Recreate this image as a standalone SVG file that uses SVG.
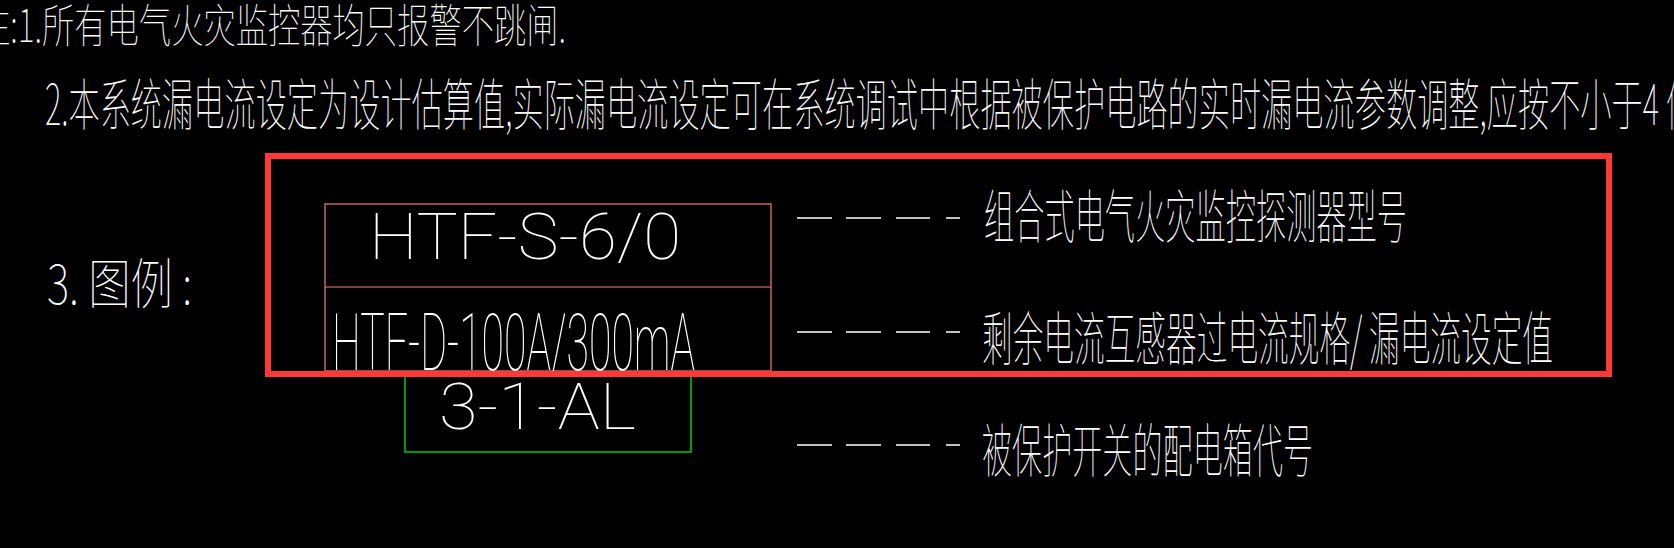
<svg xmlns="http://www.w3.org/2000/svg" width="1674" height="548" viewBox="0 0 1674 548">
<style>
.t{fill:#fff;font-family:Roboto,"Liberation Sans",sans-serif;font-weight:100}
.c{fill:#fff;font-family:"Noto Sans CJK SC",sans-serif;font-weight:100}
.d{stroke:#fff;stroke-width:1.5;fill:none}
</style>
<rect width="1674" height="548" fill="#000"/>
<g id="notes">
<text class="c" x="-22" y="42" font-size="46" textLength="588" lengthAdjust="spacingAndGlyphs">注:1.所有电气火灾监控器均只报警不跳闸.</text>
<text class="c" x="45" y="125" font-size="56" textLength="1614" lengthAdjust="spacingAndGlyphs">2.本系统漏电流设定为设计估算值,实际漏电流设定可在系统调试中根据被保护电路的实时漏电流参数调整,应按不小于4</text>
<text class="c" x="1666" y="125" font-size="56" textLength="30" lengthAdjust="spacingAndGlyphs">倍</text>
<text class="c" x="47" y="304" font-size="54" textLength="145" lengthAdjust="spacingAndGlyphs">3. 图例 :</text>
</g>
<g id="legend-box">
<rect x="325" y="204" width="446" height="167" fill="none" stroke="#f08080" stroke-width="1.2"/>
<line x1="325" y1="287" x2="771" y2="287" stroke="#f08080" stroke-width="1.2"/>
<text class="t" x="369" y="259" font-size="64" textLength="312" lengthAdjust="spacingAndGlyphs">HTF-S-6/0</text>
<text class="t" x="332" y="370" font-size="80" textLength="363" lengthAdjust="spacingAndGlyphs">HTF-D-100A/300mA</text>
</g>
<g id="panel-box">
<rect x="405" y="372" width="286" height="80" fill="none" stroke="#00ff00" stroke-width="1.2"/>
<text class="t" x="439" y="429" font-size="64" textLength="197" lengthAdjust="spacingAndGlyphs">3-1-AL</text>
</g>
<g id="highlight">
<rect x="268" y="156" width="1341" height="218" fill="none" stroke="#ff3838" stroke-width="6"/>
</g>
<g id="connectors">
<path class="d" d="M797 218H832M846 218H881M896 218H930M946 218H960"/>
<path class="d" d="M797 332H832M846 332H881M896 332H930M946 332H960"/>
<path class="d" d="M797 445H832M846 445H881M896 445H930M946 445H960"/>
</g>
<g id="labels">
<text class="c" x="984" y="238" font-size="58" textLength="423" lengthAdjust="spacingAndGlyphs">组合式电气火灾监控探测器型号</text>
<text class="c" x="982" y="360" font-size="58" textLength="571" lengthAdjust="spacingAndGlyphs">剩余电流互感器过电流规格/ 漏电流设定值</text>
<text class="c" x="982" y="472" font-size="58" textLength="331" lengthAdjust="spacingAndGlyphs">被保护开关的配电箱代号</text>
</g>
</svg>
